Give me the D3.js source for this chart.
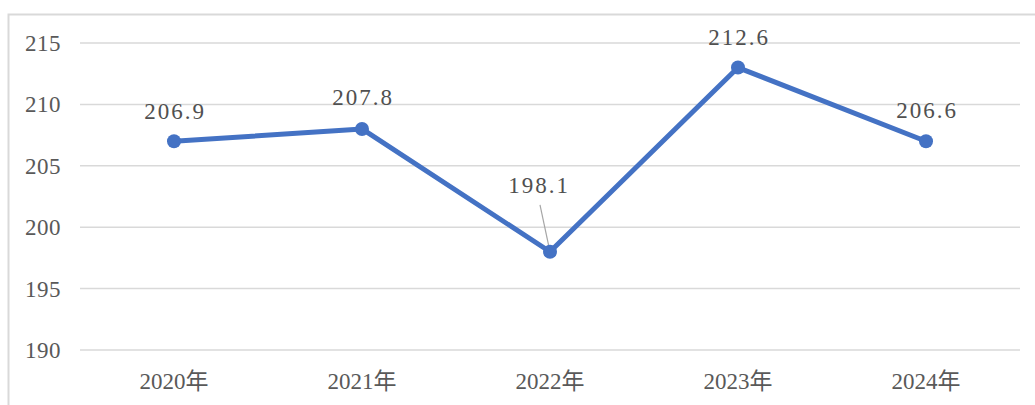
<!DOCTYPE html>
<html><head><meta charset="utf-8">
<script src="https://cdn.jsdelivr.net/npm/d3@7"></script>
<style>body{margin:0;background:#fff}svg{display:block}</style>
</head><body>
<script>
const categories = ["2020年","2021年","2022年","2023年","2024年"];
const values = [207, 208, 198, 213, 207];
const labels = ["206.9","207.8","198.1","212.6","206.6"];
const yTicks = [190, 195, 200, 205, 210, 215];

const W = 1035, H = 405;
const svg = d3.select("body").append("svg").attr("width", W).attr("height", H);
const font = "'Liberation Serif','Times New Roman',serif";
const cjk = "'Liberation Serif','Noto Sans CJK SC',serif";
const txt = "#595959";

svg.append("rect").attr("x", 8.5).attr("y", 14.5).attr("width", 1040).attr("height", 400)
  .attr("fill", "none").attr("stroke", "#d9d9d9").attr("stroke-width", 2);

const x = d3.scaleBand().domain(categories).range([80, 1020]);
const y = d3.scaleLinear().domain([190, 215]).range([350, 43]);

const g = svg.append("g");
g.selectAll("line.grid").data(yTicks).join("line")
  .attr("x1", 80).attr("x2", 1020)
  .attr("y1", d => y(d)).attr("y2", d => y(d))
  .attr("stroke", "#d9d9d9").attr("stroke-width", 1.5);

g.selectAll("text.ytick").data(yTicks).join("text")
  .attr("x", 61).attr("y", d => y(d)).attr("dy", "0.35em")
  .attr("text-anchor", "end").attr("font-family", font).attr("font-size", 23)
  .attr("fill", txt).attr("letter-spacing", 0.5).text(d => d);

g.selectAll("text.xtick").data(categories).join("text")
  .attr("x", d => x(d) + x.bandwidth() / 2).attr("y", 381).attr("dy", "0.35em")
  .attr("text-anchor", "middle").attr("font-family", cjk).attr("font-size", 23)
  .attr("fill", txt).text(d => d);

const cx = i => x(categories[i]) + x.bandwidth() / 2;

const line = d3.line().x((d, i) => cx(i)).y(d => y(d));
g.append("path").datum(values).attr("d", line)
  .attr("fill", "none").attr("stroke", "#4472C4").attr("stroke-width", 5)
  .attr("stroke-linejoin", "round");

// leader line for 2022 label
const li = 2;
g.append("line").attr("x1", cx(li) - 10).attr("y1", y(values[li]) - 47)
  .attr("x2", cx(li)).attr("y2", y(values[li]))
  .attr("stroke", "#a6a6a6").attr("stroke-width", 1.2);

g.selectAll("circle").data(values).join("circle")
  .attr("cx", (d, i) => cx(i)).attr("cy", d => y(d)).attr("r", 7)
  .attr("fill", "#4472C4");

const offX = [0, 0, -12, 0, 0];
const offY = [-30, -32, -67, -31, -31];
g.selectAll("text.lbl").data(values).join("text")
  .attr("x", (d, i) => cx(i) + offX[i] + 1).attr("y", (d, i) => y(d) + offY[i]).attr("dy", "0.35em")
  .attr("text-anchor", "middle").attr("font-family", font).attr("font-size", 23)
  .attr("fill", "#505050").attr("letter-spacing", 2).text((d, i) => labels[i]);
</script>
</body></html>
